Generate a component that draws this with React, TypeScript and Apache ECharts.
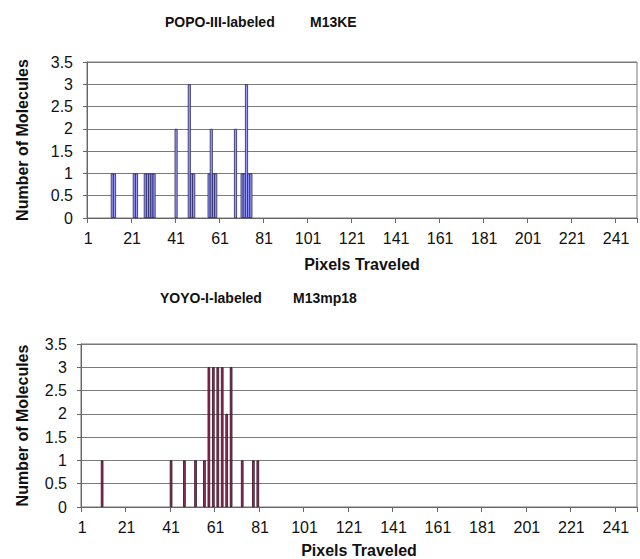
import React, { useEffect, useRef } from "react";
import * as echarts from "echarts";

// Category axis: pixel-travel bins 1..250
const binCount = 250;
const pixelBins: string[] = Array.from({ length: binCount }, (_, i) => String(i + 1));

// Top panel: POPO-III-labeled M13KE (bin -> count)
const popoBins = [12, 13, 22, 23, 27, 28, 29, 30, 31, 41, 47, 48, 49, 56, 57, 58, 59, 68, 71, 72, 73, 74, 75];
const popoCounts = [1, 1, 1, 1, 1, 1, 1, 1, 1, 2, 3, 1, 1, 1, 2, 1, 1, 2, 1, 1, 3, 1, 1];

// Bottom panel: YOYO-I-labeled M13mp18 (bin -> count)
const yoyoBins = [10, 41, 47, 52, 56, 58, 60, 62, 64, 66, 68, 73, 78, 80];
const yoyoCounts = [1, 1, 1, 1, 1, 3, 3, 3, 3, 2, 3, 1, 1, 1];

const yTicks = [0, 0.5, 1, 1.5, 2, 2.5, 3, 3.5];

const topTitleA = "POPO-III-labeled";
const topTitleB = "M13KE";
const botTitleA = "YOYO-I-labeled";
const botTitleB = "M13mp18";
const xName = "Pixels Traveled";
const yName = "Number of Molecules";

function toSeries(bins: number[], counts: number[]): (number | null)[] {
  const arr: (number | null)[] = new Array(binCount).fill(null);
  bins.forEach((b, i) => {
    arr[b - 1] = counts[i];
  });
  return arr;
}

const FONT = "'Liberation Sans', Arial, Helvetica, sans-serif";

export default function App() {
  const ref = useRef<HTMLDivElement>(null);
  useEffect(() => {
    if (!ref.current) return;
    const chart = echarts.init(ref.current, null, { renderer: "svg" });
    const xAxisCommon = (gridIndex: number, nameGap: number, margin: number) => ({
      type: "category",
      gridIndex,
      data: pixelBins,
      name: xName,
      nameLocation: "middle",
      nameGap,
      nameTextStyle: { fontFamily: FONT, fontSize: 16, fontWeight: "bold", color: "#111" },
      axisLine: { show: true, lineStyle: { color: "#666", width: 1 } },
      axisTick: {
        show: true,
        interval: (index: number) => index % 20 === 0,
        length: 5,
        lineStyle: { color: "#666" },
      },
      axisLabel: {
        interval: 19,
        fontFamily: FONT,
        fontSize: 16,
        color: "#111",
        margin,
      },
      splitLine: { show: false },
    });
    const yAxisCommon = (gridIndex: number, nameGap: number) => ({
      type: "value",
      gridIndex,
      min: 0,
      max: yTicks[yTicks.length - 1],
      interval: 0.5,
      name: yName,
      nameLocation: "middle",
      nameGap,
      nameTextStyle: { fontFamily: FONT, fontSize: 16, fontWeight: "bold", color: "#111" },
      axisLine: { show: true, lineStyle: { color: "#666", width: 1 } },
      axisTick: { show: true, length: 4, lineStyle: { color: "#666" } },
      axisLabel: {
        fontFamily: FONT,
        fontSize: 16,
        color: "#111",
        margin: 14,
        formatter: (v: number) => String(v),
      },
      splitLine: { show: true, lineStyle: { color: "#7a7a7a", width: 1 } },
    });
    chart.setOption({
      animation: false,
      backgroundColor: "#ffffff",
      grid: [
        { left: 87, right: 3, top: 62, height: 156, show: true, borderColor: "#777", borderWidth: 1, containLabel: false },
        { left: 81, right: 3, top: 344, height: 163.5, show: true, borderColor: "#777", borderWidth: 1, containLabel: false },
      ],
      xAxis: [xAxisCommon(0, 38, 12), xAxisCommon(1, 35, 12)],
      yAxis: [yAxisCommon(0, 57), yAxisCommon(1, 51)],
      series: [
        {
          type: "bar",
          xAxisIndex: 0,
          yAxisIndex: 0,
          data: toSeries(popoBins, popoCounts),
          barWidth: 3,
          itemStyle: { color: "#9999FF", borderColor: "#26265a", borderWidth: 0.8 },
        },
        {
          type: "bar",
          xAxisIndex: 1,
          yAxisIndex: 1,
          data: toSeries(yoyoBins, yoyoCounts),
          barWidth: 2.6,
          itemStyle: { color: "#993366", borderColor: "#2e0a1c", borderWidth: 0.8 },
        },
      ],
      graphic: [
        { type: "text", left: 165, top: 15, style: { text: topTitleA, font: `bold 14px ${FONT}`, fill: "#111" } },
        { type: "text", left: 310, top: 15, style: { text: topTitleB, font: `bold 14px ${FONT}`, fill: "#111" } },
        { type: "text", left: 160, top: 291, style: { text: botTitleA, font: `bold 14px ${FONT}`, fill: "#111" } },
        { type: "text", left: 293, top: 291, style: { text: botTitleB, font: `bold 14px ${FONT}`, fill: "#111" } },
      ],
    });
    return () => chart.dispose();
  }, []);
  return (
    <div
      ref={ref}
      style={{ position: "fixed", left: 0, top: 0, width: 640, height: 559, background: "#fff" }}
    />
  );
}
